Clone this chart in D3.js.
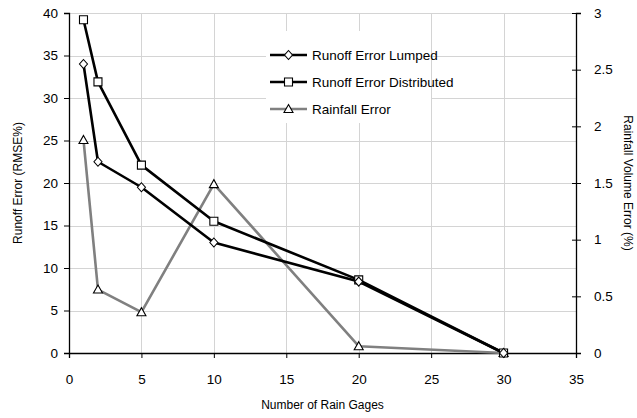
<!DOCTYPE html>
<html>
<head>
<meta charset="utf-8">
<script src="https://cdn.jsdelivr.net/npm/d3@7"></script>
<style>
  body { margin: 0; background: #fff; }
  svg text { font-family: "Liberation Sans", Arial, sans-serif; fill: #000; }
</style>
</head>
<body>
<svg id="chart"></svg>
<script>
// data
const gages = [1, 2, 5, 10, 20, 30];
const lumped = [34, 22.5, 19.5, 13, 8.4, 0];
const distributed = [39.2, 31.9, 22.1, 15.5, 8.6, 0];
const rainfall = [1.88, 0.56, 0.36, 1.49, 0.06, 0];

const xTicks = [0, 5, 10, 15, 20, 25, 30, 35];
const yLeftTicks = [0, 5, 10, 15, 20, 25, 30, 35, 40];
const yRightTicks = [0, 0.5, 1, 1.5, 2, 2.5, 3];

const width = 637, height = 418;
const m = { left: 69, right: 61, top: 13, bottom: 65 };

const svg = d3.select("#chart").attr("width", width).attr("height", height);

const x = d3.scaleLinear().domain([0, 35]).range([m.left, width - m.right]);
const yL = d3.scaleLinear().domain([0, 40]).range([height - m.bottom, m.top]);
const yR = d3.scaleLinear().domain([0, 3]).range([height - m.bottom, m.top]);

// gridlines
const grid = svg.append("g").attr("stroke", "#d4d4d4").attr("stroke-width", 1);
grid.selectAll(".h").data(yLeftTicks.slice(1)).join("line")
  .attr("x1", x(0)).attr("x2", x(35))
  .attr("y1", d => Math.round(yL(d)) + 0.5).attr("y2", d => Math.round(yL(d)) + 0.5);
grid.selectAll(".v").data(xTicks.slice(1, -1)).join("line")
  .attr("y1", yL(0)).attr("y2", yL(40))
  .attr("x1", d => Math.round(x(d)) + 0.5).attr("x2", d => Math.round(x(d)) + 0.5);

// axes
const fs = "13.5px";
const xAxis = svg.append("g").attr("transform", `translate(0,${yL(0)})`)
  .call(d3.axisBottom(x).tickValues(xTicks).tickSize(5).tickPadding(16));
const yAxisL = svg.append("g").attr("transform", `translate(${x(0)},0)`)
  .call(d3.axisLeft(yL).tickValues(yLeftTicks).tickSize(5).tickPadding(6));
const yAxisR = svg.append("g").attr("transform", `translate(${x(35)},0)`)
  .call(d3.axisRight(yR).tickValues(yRightTicks).tickSize(5).tickPadding(13));
yAxisR.selectAll(".tick line").attr("x1", -4);

[xAxis, yAxisL, yAxisR].forEach(g => {
  g.select(".domain").attr("stroke", "#000").attr("stroke-width", 1.3);
  g.selectAll(".tick line").attr("stroke", "#000");
  g.selectAll(".tick text").style("font-size", fs).attr("fill", "#000")
    .style("font-family", "'Liberation Sans', Arial, sans-serif");
});
yAxisR.selectAll(".tick text").text(d => d3.format("~g")(d));

// axis titles
svg.append("text").attr("x", (x(0) + x(35)) / 2).attr("y", 409)
  .attr("text-anchor", "middle").style("font-size", "12px").text("Number of Rain Gages");
svg.append("text").attr("transform", `translate(22,${(yL(0) + yL(40)) / 2}) rotate(-90)`)
  .attr("text-anchor", "middle").style("font-size", "12px").text("Runoff Error (RMSE%)");
svg.append("text").attr("transform", `translate(624,${(yL(0) + yL(40)) / 2}) rotate(90)`)
  .attr("text-anchor", "middle").style("font-size", "12px").text("Rainfall Volume Error (%)");

// series
const series = [
  { name: "Runoff Error Lumped", values: lumped, y: yL, color: "#000", marker: "diamond" },
  { name: "Runoff Error Distributed", values: distributed, y: yL, color: "#000", marker: "square" },
  { name: "Rainfall Error", values: rainfall, y: yR, color: "#808080", marker: "triangle" }
];

function markerPath(type) {
  if (type === "diamond") return "M0,-4.5L4,0L0,4.5L-4,0Z";
  if (type === "square") return "M-4,-4H4V4H-4Z";
  return "M0,-4.5L4.5,3.5H-4.5Z";
}

// legend background and entries
const lg = svg.append("g");
lg.append("rect").attr("x", 266).attr("y", 31).attr("width", 165).attr("height", 92).attr("fill", "#fff");

const plot = svg.append("g");
series.slice().reverse().forEach(s => {
  const line = d3.line().x((d, i) => x(gages[i])).y(d => s.y(d));
  plot.append("path").datum(s.values).attr("d", line)
    .attr("fill", "none").attr("stroke", s.color).attr("stroke-width", 2.6)
    .attr("stroke-linejoin", "round");
});
series.slice().reverse().forEach(s => {
  plot.selectAll(null).data(s.values).join("path")
    .attr("transform", (d, i) => `translate(${x(gages[i])},${s.y(d)})`)
    .attr("d", markerPath(s.marker))
    .attr("fill", "#fff").attr("stroke", "#000").attr("stroke-width", 1.1);
});

series.forEach((s, i) => {
  const ly = 55 + i * 27;
  lg.append("line").attr("x1", 270).attr("x2", 307).attr("y1", ly).attr("y2", ly)
    .attr("stroke", s.color).attr("stroke-width", 2.6);
  lg.append("path").attr("transform", `translate(288.5,${ly})`).attr("d", markerPath(s.marker))
    .attr("fill", "#fff").attr("stroke", "#000").attr("stroke-width", 1.1);
  lg.append("text").attr("x", 312).attr("y", ly + 4.5).style("font-size", "13.5px").text(s.name);
});
</script>
</body>
</html>
